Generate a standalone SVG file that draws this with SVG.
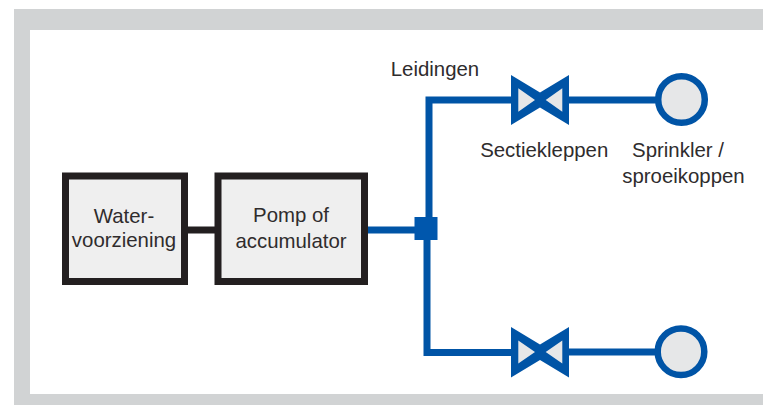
<svg xmlns="http://www.w3.org/2000/svg" width="763" height="405" viewBox="0 0 763 405">
<style>
text{font-family:"Liberation Sans",Arial,sans-serif;font-size:20.4px;fill:#2f2c2d;text-anchor:middle}
.box{fill:#efefef;stroke:#231f20;stroke-width:7}
.pipe{fill:none;stroke:#0054a6;stroke-width:7}
.blk{fill:none;stroke:#231f20;stroke-width:7}
.v{fill:#0054a6}
.vi{fill:#e6e7e8}
.sp{fill:#e6e7e8;stroke:#0054a6;stroke-width:6.5}
</style>
<rect width="763" height="405" fill="#fff"/>
<path id="frame" fill="#d1d3d4" d="M14 9H763V30H30V394H763V405H14Z"/>
<g id="connectors">
<path class="blk" d="M187 230H215"/>
<path class="pipe" d="M367 230H420"/>
<path class="pipe" d="M515 100H429V230L427 232V352.500H515"/>
<path class="pipe" d="M565 100H660"/>
<path class="pipe" d="M565 352H660"/>
</g>
<g id="junction"><rect x="414.500" y="217" width="23" height="23" fill="#0057ad"/></g>
<g id="water"><rect class="box" x="65.500" y="176" width="119" height="105.500"/><text x="124" y="223.300">Water-</text><text x="124" y="247.300">voorziening</text></g>
<g id="pump"><rect class="box" x="218" y="176" width="146.500" height="105.500"/><text x="291" y="222">Pomp of</text><text x="291" y="248">accumulator</text></g>
<g id="valve-top"><path class="v" d="M511 75L540 92.500L569 75V125L540 107.500L511 125Z"/><path class="vi" d="M518.300 88.300L535 100L518.300 111.700ZM562.300 88.300L545.700 100L562.300 111.700Z"/></g>
<g id="valve-bottom"><path class="v" d="M511 327L540 344.500L569 327V377.500L540 360L511 377.500Z"/><path class="vi" d="M518.300 340.500L535 352L518.300 363.500ZM562.300 340.500L545.700 352L562.300 363.500Z"/></g>
<g id="sprinkler-top"><circle class="sp" cx="681.500" cy="99.500" r="23.300"/></g>
<g id="sprinkler-bottom"><circle class="sp" cx="681" cy="351.700" r="23.300"/></g>
<g id="labels">
<text x="435" y="75.500">Leidingen</text>
<text x="544.200" y="157.300">Sectiekleppen</text>
<text x="678" y="157.300">Sprinkler /</text>
<text x="683.500" y="183">sproeikoppen</text>
</g>
</svg>
